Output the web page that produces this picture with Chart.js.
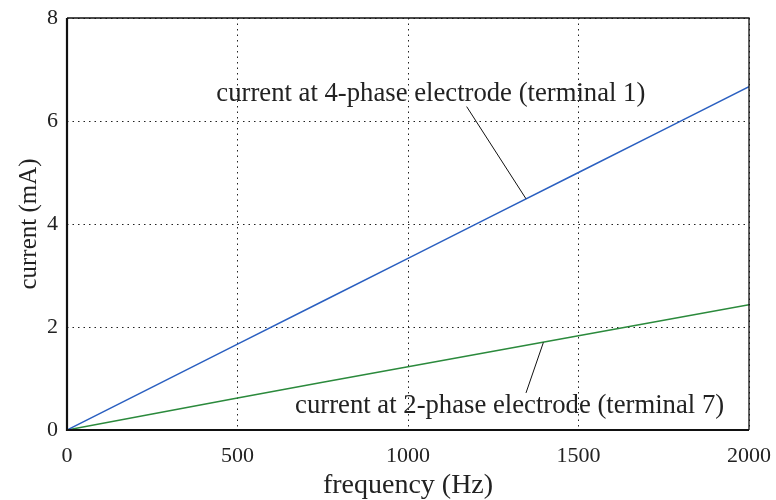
<!DOCTYPE html>
<html><head><meta charset="utf-8">
<script src="https://cdn.jsdelivr.net/npm/chart.js@4/dist/chart.umd.min.js"></script>
<style>html,body{margin:0;padding:0;background:#fff}#wrap{width:776px;height:500px}</style>
</head><body><div id="wrap"><canvas id="c" width="776" height="500"></canvas></div>
<script>
const frequency = [0, 250, 500, 750, 1000, 1250, 1500, 1750, 2000];
const current4phase = [0, 0.833, 1.667, 2.5, 3.333, 4.167, 5.0, 5.833, 6.667];
const current2phase = [0, 0.31, 0.62, 0.925, 1.23, 1.53, 1.83, 2.13, 2.43];
const xTicks = [0, 500, 1000, 1500, 2000];
const yTicks = [0, 2, 4, 6, 8];
const labelText = ["current at 4-phase electrode (terminal 1)", "current at 2-phase electrode (terminal 7)"];
const labelPos = [[1067, 6.39], [1298, 0.33]];
const leaderFrom = [[1172, 6.28], [1346, 0.72]];
const leaderTo = [[1346, 4.49], [1397, 1.70]];

const FONT = "'Liberation Serif','Times New Roman',serif";
const annot = {
  id: 'annot',
  afterDatasetsDraw(chart) {
    const ctx = chart.ctx, xs = chart.scales.x, ys = chart.scales.y;
    const a = chart.chartArea;
    ctx.save();
    ctx.strokeStyle = '#111'; ctx.lineWidth = 1;
    for (let i = 0; i < leaderFrom.length; i++) {
      ctx.beginPath();
      ctx.moveTo(xs.getPixelForValue(leaderFrom[i][0]), ys.getPixelForValue(leaderFrom[i][1]));
      ctx.lineTo(xs.getPixelForValue(leaderTo[i][0]), ys.getPixelForValue(leaderTo[i][1]));
      ctx.stroke();
    }
    ctx.fillStyle = '#222'; ctx.font = '26.7px ' + FONT;
    ctx.textAlign = 'center'; ctx.textBaseline = 'alphabetic';
    for (let i = 0; i < labelText.length; i++) {
      ctx.fillText(labelText[i], xs.getPixelForValue(labelPos[i][0]), ys.getPixelForValue(labelPos[i][1]));
    }
    // frame
    ctx.strokeStyle = '#111';
    ctx.lineWidth = 1.3;
    ctx.beginPath();
    ctx.moveTo(a.left, a.top); ctx.lineTo(a.right, a.top); ctx.lineTo(a.right, a.bottom);
    ctx.stroke();
    ctx.lineWidth = 2.2;
    ctx.beginPath();
    ctx.moveTo(a.left, a.top); ctx.lineTo(a.left, a.bottom); ctx.lineTo(a.right, a.bottom);
    ctx.stroke();
    ctx.restore();
  }
};

new Chart(document.getElementById('c'), {
  type: 'scatter',
  data: {
    datasets: [
      { data: frequency.map((f, i) => ({x: f, y: current4phase[i]})), showLine: true, borderColor: '#2a5fc0', borderWidth: 1.5, pointRadius: 0, tension: 0 },
      { data: frequency.map((f, i) => ({x: f, y: current2phase[i]})), showLine: true, borderColor: '#2b8a3c', borderWidth: 1.5, pointRadius: 0, tension: 0 }
    ]
  },
  options: {
    responsive: false, animation: false, devicePixelRatio: 1,
    layout: { padding: { left: 0, right: 27, top: 18, bottom: 0 } },
    plugins: { legend: { display: false }, tooltip: { enabled: false } },
    scales: {
      x: {
        type: 'linear', min: 0, max: 2000,
        afterBuildTicks: s => { s.ticks = xTicks.map(v => ({value: v})); },
        afterFit: s => { s.height = 70; s.paddingLeft = 0; s.paddingRight = 0; },
        grid: { color: '#222', lineWidth: 1, drawTicks: false },
        border: { display: false, dash: [1.5, 4] },
        ticks: { color: '#222', font: { family: FONT, size: 22 }, padding: 13, maxRotation: 0, callback: v => String(v) },
        title: { display: true, text: 'frequency (Hz)', color: '#222', font: { family: FONT, size: 28 }, padding: { top: 0, bottom: -2 } }
      },
      y: {
        type: 'linear', min: 0, max: 8,
        afterBuildTicks: s => { s.ticks = yTicks.map(v => ({value: v})); },
        afterFit: s => { s.width = 67; s.paddingTop = 0; s.paddingBottom = 0; },
        grid: { color: '#222', lineWidth: 1, drawTicks: false },
        border: { display: false, dash: [1.5, 4] },
        ticks: { color: '#222', font: { family: FONT, size: 22 }, padding: 9, callback: v => String(v) },
        title: { display: true, text: 'current (mA)', color: '#222', font: { family: FONT, size: 25 }, padding: { top: 14, bottom: 0 } }
      }
    }
  },
  plugins: [annot]
});
</script></body></html>
